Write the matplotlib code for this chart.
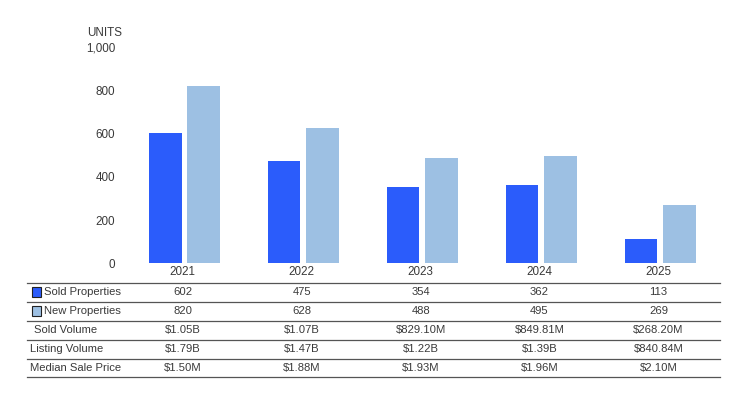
import matplotlib
matplotlib.use("Agg")
import matplotlib.pyplot as plt
import matplotlib.transforms as mtransforms
from matplotlib.patches import Rectangle

plt.rcParams["font.family"] = ["Liberation Sans", "DejaVu Sans"]

# ── data ──────────────────────────────────────────────────────────────────────
years = ["2021", "2022", "2023", "2024", "2025"]
sold = [602, 475, 354, 362, 113]
new = [820, 628, 488, 495, 269]
sold_volume = ["$1.05B", "$1.07B", "$829.10M", "$849.81M", "$268.20M"]
listing_volume = ["$1.79B", "$1.47B", "$1.22B", "$1.39B", "$840.84M"]
median_price = ["$1.50M", "$1.88M", "$1.93M", "$1.96M", "$2.10M"]
y_ticks = [0, 200, 400, 600, 800, 1000]

SOLD_C = "#2B5CFB"
NEW_C = "#9DC0E3"
TXT = "#3a3a3a"
FS = 8.1

W, H = 743, 394
fig = plt.figure(figsize=(W / 100, H / 100), dpi=100)


def fx(px):
    return px / W


def fy(py):
    return 1 - py / H


# ── bar axes ─────────────────────────────────────────────────────────────────
ax = fig.add_axes([fx(125), fy(263.3), fx(719.7) - fx(125), fy(47.3) - fy(263.3)])
x = list(range(len(years)))
bw = 0.273
off = 0.161
ax.bar([i - off for i in x], sold, width=bw, color=SOLD_C)
ax.bar([i + off for i in x], new, width=bw, color=NEW_C)
ax.set_xlim(-0.5, 4.5)
ax.set_ylim(0, 1000)
ax.set_yticks(y_ticks)
ax.set_yticklabels([f"{v:,}" for v in y_ticks])
ax.set_xticks([])
ax.tick_params(axis="y", length=0, pad=7, labelsize=FS + 0.3, labelcolor=TXT)
for s in ax.spines.values():
    s.set_visible(False)

fig.text(fx(105), fy(33), "UNITS", ha="center", va="center", fontsize=FS + 0.3, color=TXT)

# ── table below ──────────────────────────────────────────────────────────────
tr = mtransforms.blended_transform_factory(ax.transData, fig.transFigure)
for i, yr in enumerate(years):
    fig.text(i - 0.015, fy(272), yr, transform=tr, ha="center", va="center",
             fontsize=FS + 0.3, color=TXT)

rows = [
    ("Sold Properties", [str(v) for v in sold], SOLD_C),
    ("New Properties", [str(v) for v in new], NEW_C),
    ("Sold Volume", sold_volume, None),
    ("Listing Volume", listing_volume, None),
    ("Median Sale Price", median_price, None),
]
row_y = [292, 311, 330, 349, 368]
label_x = [44, 44, 34, 30, 30]
line_y = [282.5, 301.5, 320.5, 339.5, 358.5, 377.3]

for yl in line_y:
    fig.add_artist(plt.Line2D([fx(27), fx(720)], [fy(yl), fy(yl)],
                              color="#555555", lw=0.9))

for (lab, vals, sw), ry, lx in zip(rows, row_y, label_x):
    if sw is not None:
        fig.add_artist(Rectangle((fx(31.7), fy(ry + 4.7)), fx(9.3), fy(0) - fy(9.3),
                                 facecolor=sw, edgecolor="#222222", lw=0.8))
    fig.text(fx(lx), fy(ry), lab, ha="left", va="center", fontsize=FS, color=TXT)
    for i, v in enumerate(vals):
        fig.text(i - 0.015, fy(ry), v, transform=tr, ha="center", va="center",
                 fontsize=FS, color=TXT)

fig.savefig("out.png", dpi=100)
